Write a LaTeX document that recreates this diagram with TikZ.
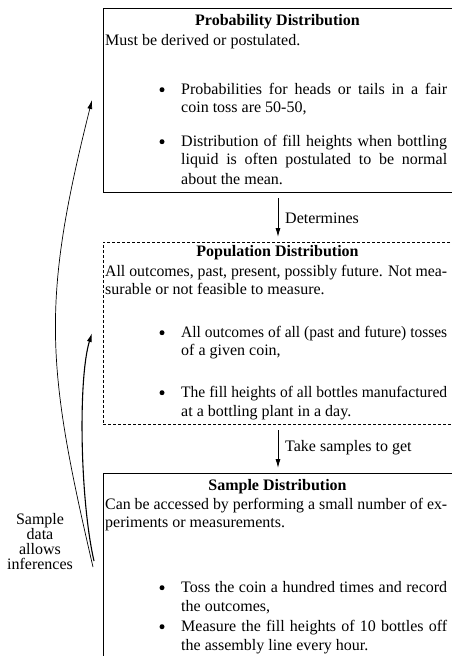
\documentclass[tikz,border=0pt]{standalone}
\usepackage{fontspec}
\usepackage{graphicx}
\setmainfont{Liberation Serif}
\usetikzlibrary{arrows.meta}
\newsavebox\jlbox
\newcommand\jl[2]{\sbox\jlbox{#2}\ifdim\wd\jlbox>#1\relax\resizebox{#1}{\height}{\usebox\jlbox}\else\makebox[#1][s]{#2}\fi}
\begin{document}
\begin{tikzpicture}[x=1pt,y=-1pt,
  every node/.style={font=\fontsize{16pt}{18pt}\selectfont},
  txt/.style={anchor=base west, inner sep=0pt},
  ttl/.style={anchor=base, inner sep=0pt, font=\fontsize{16pt}{18pt}\selectfont\bfseries},
  bul/.style={circle, fill=black, inner sep=0pt, minimum size=5pt, yshift=4.3pt},
  solidbox/.style={draw, line width=1pt, anchor=north west, minimum width=350pt, inner sep=0pt, outer sep=0pt},
  dashbox/.style={solidbox, line width=0.8pt, dash pattern=on 3pt off 2pt},
  varr/.style={-{Latex[length=9pt,width=5pt]}, line width=0.9pt, shorten <=6pt, shorten >=5pt},
  carr/.style={-{Latex[length=9pt,width=5pt]}},
  lbl/.style={anchor=west, inner sep=0pt}
]
\useasboundingbox (0,0) rectangle (452,656);
% boxes
\node[solidbox, minimum height=184pt] (b1) at (103,8) {};
\node[dashbox, minimum height=182pt] (b2) at (103,242) {};
\node[solidbox, minimum height=200pt] (b3) at (103,473) {};
% box 1
\node[ttl] (t1) at (277.5,25) {Probability Distribution};
\node[txt] (d1) at (105,45) {Must be derived or postulated.};
\node[bul] (k11) at (162,94) {};
\node[txt] (l111) at (181,94) {\jl{266pt}{Probabilities for heads or tails in a fair}};
\node[txt] (l112) at (181,112) {coin toss are 50-50,};
\node[bul] (k12) at (162,146) {};
\node[txt] (l121) at (181,146) {\jl{266pt}{Distribution of fill heights when bottling}};
\node[txt] (l122) at (181,164) {\jl{266pt}{liquid is often postulated to be normal}};
\node[txt] (l123) at (181,184) {about the mean.};
% box 2
\node[ttl] (t2) at (277.5,256) {Population Distribution};
\node[txt] (d21) at (105,276) {\jl{342pt}{All outcomes, past, present, possibly future. Not mea-}};
\node[txt] (d22) at (105,294) {surable or not feasible to measure.};
\node[bul] (k21) at (162,337) {};
\node[txt] (l211) at (181,337) {\jl{266pt}{All outcomes of all (past and future) tosses}};
\node[txt] (l212) at (181,355) {of a given coin,};
\node[bul] (k22) at (162,397) {};
\node[txt] (l221) at (181,397) {\jl{266pt}{The fill heights of all bottles manufactured}};
\node[txt] (l222) at (181,416) {at a bottling plant in a day.};
% box 3
\node[ttl] (t3) at (277.5,490) {Sample Distribution};
\node[txt] (d31) at (105,509) {\jl{342pt}{Can be accessed by performing a small number of ex-}};
\node[txt] (d32) at (105,527) {periments or measurements.};
\node[bul] (k31) at (162,592) {};
\node[txt] (l311) at (181,592) {\jl{266pt}{Toss the coin a hundred times and record}};
\node[txt] (l312) at (181,611) {the outcomes,};
\node[bul] (k32) at (162,631) {};
\node[txt] (l321) at (181,631) {\jl{266pt}{Measure the fill heights of 10 bottles off}};
\node[txt] (l322) at (181,650) {the assembly line every hour.};
% vertical arrows
\draw[varr] (b1.south) -- (b2.north);
\draw[varr] (b2.south) -- (b3.north);
\node[lbl] (det) at (285,218) {Determines};
\node[lbl] (tak) at (285,448) {Take samples to get};
% inference label and curves
\node[align=center, inner sep=0pt, font=\fontsize{16pt}{15pt}\selectfont] (inf) at (40,542) {Sample\\data\\allows\\inferences};
\coordinate (s1) at (93,567);
\coordinate (e1) at (92,100);
\coordinate (s2) at (94,561);
\coordinate (e2) at (92,333);
\draw[carr, line width=0.7pt] (s1) .. controls (46,365) and (41,303) .. (e1);
\draw[carr, line width=1.1pt] (s2) .. controls (80,500) and (78,378) .. (e2);
\end{tikzpicture}
\end{document}
